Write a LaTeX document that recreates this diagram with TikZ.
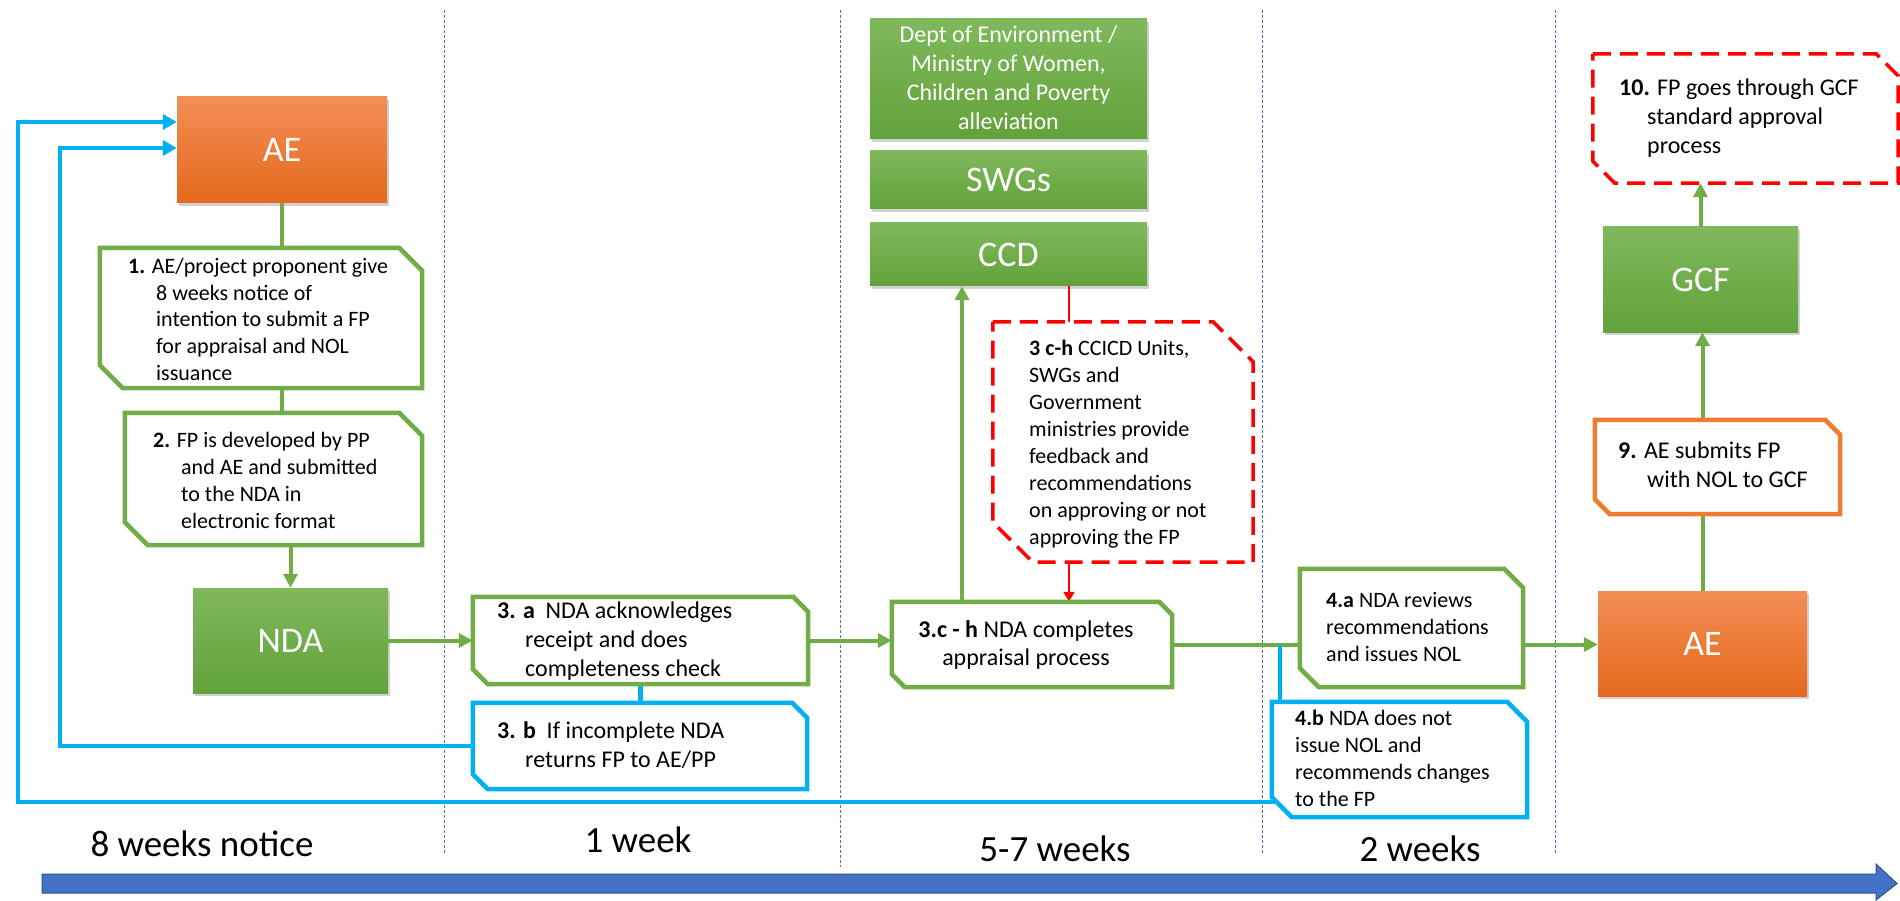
\documentclass[tikz,border=0pt]{standalone}
\usepackage{fontspec}
\setmainfont{Carlito}
\usetikzlibrary{arrows.meta,shadows,calc}
\definecolor{gr}{HTML}{70AD47}
\definecolor{grtop}{HTML}{7FB95C}
\definecolor{grbot}{HTML}{62A23A}
\definecolor{ortop}{HTML}{F28E55}
\definecolor{orbot}{HTML}{E5691C}
\definecolor{orline}{HTML}{ED7D31}
\definecolor{cy}{HTML}{00B0F0}
\definecolor{rd}{HTML}{FF0000}
\definecolor{dv}{HTML}{4472C4}
\definecolor{abl}{HTML}{4472C4}
\definecolor{abd}{HTML}{2F528F}
\newcommand{\chamf}[3]{%
  \filldraw[#3] (#1.north west) -- ([xshift=-#2]#1.north east) -- ([yshift=-#2]#1.north east)
    -- (#1.south east) -- ([xshift=#2]#1.south west) -- ([yshift=#2]#1.south west) -- cycle;}
\begin{document}
\begin{tikzpicture}[x=1pt,y=-1pt,
  blk/.style={draw=none, inner sep=0pt, text=white, font=\fontsize{36}{40}\selectfont,
    drop shadow={opacity=0.35, shadow xshift=2pt, shadow yshift=-3pt}},
  grn/.style={blk, top color=grtop, bottom color=grbot},
  org/.style={blk, top color=ortop, bottom color=orbot},
  frame/.style={inner sep=0pt, draw=none},
  gbox/.style={fill=white, draw=gr, line width=4.5pt},
  bbox/.style={fill=white, draw=cy, line width=4.5pt},
  obox/.style={fill=white, draw=orline, line width=4.5pt},
  rbox/.style={fill=white, draw=rd, line width=3.5pt, dash pattern=on 18pt off 9pt},
  txs/.style={inner sep=0pt, anchor=base west, font=\fontsize{22}{27}\selectfont},
  txm/.style={inner sep=0pt, anchor=base west, font=\fontsize{24}{29}\selectfont},
  gline/.style={draw=gr, line width=4pt},
  garrow/.style={gline, -{Triangle[length=14pt,width=14pt]}},
  bline/.style={draw=cy, line width=4.5pt},
  barrow/.style={bline, -{Triangle[length=14pt,width=15pt]}},
  rline/.style={draw=rd, line width=2pt},
  rarrow/.style={rline, -{Triangle[length=10pt,width=11pt]}},
  divider/.style={draw=dv, line width=1pt, dash pattern=on 3pt off 2pt},
  timelbl/.style={inner sep=0pt, anchor=base, font=\fontsize{37}{40}\selectfont}
]
\useasboundingbox (0,0) rectangle (1900,901);
\fill[white] (0,0) rectangle (1900,901);

% dividers
\draw[divider] (444,10) -- (444,854);
\draw[divider] (840,10) -- (840,867);
\draw[divider] (1262,10) -- (1262,853);
\draw[divider] (1555,10) -- (1555,854);

% solid blocks
\node[org, minimum width=210pt, minimum height=106pt] (ae1) at (282,150) {AE};
\node[grn, minimum width=195pt, minimum height=105pt] (nda) at (290.5,640.5) {NDA};
\node[grn, minimum width=277pt, minimum height=120pt] (dept) at (1008.5,79) {};
\node[inner sep=0pt, anchor=base, text=white, font=\fontsize{24}{29}\selectfont] (deptt) at (1008.5,43)
  {\begin{tabular}[t]{@{}c@{}}Dept of Environment /\\Ministry of Women,\\Children and Poverty\\alleviation\end{tabular}};
\node[grn, minimum width=277pt, minimum height=58pt] (swg) at (1008.5,180) {SWGs};
\node[grn, minimum width=277pt, minimum height=63pt] (ccd) at (1008.5,254.5) {CCD};
\node[grn, minimum width=195pt, minimum height=105pt] (gcf) at (1700.5,279.5) {GCF};
\node[org, minimum width=209pt, minimum height=105pt] (ae2) at (1702.5,643.5) {AE};

% frames for chamfered boxes
\node[frame, minimum width=322pt, minimum height=140pt] (b1) at (261,318) {};
\node[frame, minimum width=297pt, minimum height=132pt] (b2) at (273.5,479) {};
\node[frame, minimum width=335pt, minimum height=87pt] (b3a) at (640.5,640.5) {};
\node[frame, minimum width=334pt, minimum height=86pt] (b3b) at (640,746) {};
\node[frame, minimum width=280pt, minimum height=85pt] (b3c) at (1032,644.5) {};
\node[frame, minimum width=260pt, minimum height=240pt] (r3) at (1123,442) {};
\node[frame, minimum width=223pt, minimum height=118pt] (b4a) at (1411.5,628) {};
\node[frame, minimum width=255pt, minimum height=115pt] (b4b) at (1399.5,759.5) {};
\node[frame, minimum width=245pt, minimum height=94pt] (b9) at (1717.5,467) {};
\node[frame, minimum width=305pt, minimum height=129pt] (r10) at (1745.5,118.5) {};

% connectors
\coordinate (cx) at (962,0);
\coordinate (rx) at (1069,0);
\coordinate (jx) at (1280,0);
\coordinate (l1) at (60,148);
\coordinate (l2) at (18,122);
\coordinate (l2b) at ($(b4b.south west)+(5,-15)$);

\draw[gline] (ae1.south) -- (ae1.south |- b1.north);
\draw[gline] (b1.south -| ae1.south) -- (b2.north -| ae1.south);
\draw[garrow] (b2.south -| nda.north) -- (nda.north);
\draw[garrow] (nda.east) -- (nda.east -| b3a.west);
\draw[garrow] (b3a.east) -- (b3a.east -| b3c.west);
\draw[gline] (b3c.east) -- (b3c.east -| b4a.west);
\draw[garrow] (b4a.east |- b3c.east) -- (ae2.west |- b3c.east);
\draw[garrow] (cx |- b3c.north) -- (cx |- ccd.south);
\draw[rline] (rx |- ccd.south) -- (rx |- r3.north);
\draw[rarrow] (rx |- r3.south) -- (rx |- b3c.north);
\draw[bline] (b3a.south) -- (b3a.south |- b3b.north);
\draw[bline] (jx |- b3c.east) -- (jx |- b4b.north);
\draw[barrow] (b3b.west) -- (b3b.west -| l1) -- (l1) -- (l1 -| ae1.west);
\draw[barrow] (l2b) -- (l2b -| l2) -- (l2) -- (l2 -| ae1.west);
\draw[gline] (ae2.north) -- (ae2.north |- b9.south);
\draw[garrow] (b9.north -| ae2.north) -- (gcf.south -| ae2.north);
\draw[garrow] (gcf.north) -- (gcf.north |- r10.south);

% chamfered outlines
\chamf{b1}{23pt}{gbox}
\chamf{b2}{23pt}{gbox}
\chamf{b3a}{15pt}{gbox}
\chamf{b3b}{15pt}{bbox}
\chamf{b3c}{13pt}{gbox}
\chamf{r3}{40pt}{rbox}
\chamf{b4a}{19pt}{gbox}
\chamf{b4b}{20pt}{bbox}
\chamf{b9}{15pt}{obox}
\chamf{r10}{22pt}{rbox}

% texts
\node[txs] (b1t) at (128,273) {\begin{tabular}[t]{@{}l@{}}\textbf{1.} AE/project proponent give\\\hspace*{28pt}8 weeks notice of\\\hspace*{28pt}intention to submit a FP\\\hspace*{28pt}for appraisal and NOL\\\hspace*{28pt}issuance\end{tabular}};
\node[txs] (b2t) at (153,447) {\begin{tabular}[t]{@{}l@{}}\textbf{2.} FP is developed by PP\\\hspace*{28pt}and AE and submitted\\\hspace*{28pt}to the NDA in\\\hspace*{28pt}electronic format\end{tabular}};
\node[txm] (b3at) at (497,618) {\begin{tabular}[t]{@{}l@{}}\textbf{3. a}\ \ NDA acknowledges\\\hspace*{28pt}receipt and does\\\hspace*{28pt}completeness check\end{tabular}};
\node[txm] (b3bt) at (497,738) {\begin{tabular}[t]{@{}l@{}}\textbf{3. b}\ \ If incomplete NDA\\\hspace*{28pt}returns FP to AE/PP\end{tabular}};
\node[inner sep=0pt, anchor=base, font=\fontsize{24}{28.5}\selectfont] (b3ct) at (1026,637) {\begin{tabular}[t]{@{}c@{}}\textbf{3.c - h} NDA completes\\appraisal process\end{tabular}};
\node[txs] (r3t) at (1029,355) {\begin{tabular}[t]{@{}l@{}}\textbf{3 c-h} CCICD Units,\\SWGs and\\Government\\ministries provide\\feedback and\\recommendations\\on approving or not\\approving the FP\end{tabular}};
\node[txs] (b4at) at (1326,607) {\begin{tabular}[t]{@{}l@{}}\textbf{4.a} NDA reviews\\recommendations\\and issues NOL\end{tabular}};
\node[txs] (b4bt) at (1295,725) {\begin{tabular}[t]{@{}l@{}}\textbf{4.b} NDA does not\\issue NOL and\\recommends changes\\to the FP\end{tabular}};
\node[txm] (b9t) at (1618,458) {\begin{tabular}[t]{@{}l@{}}\textbf{9.} AE submits FP\\\hspace*{29pt}with NOL to GCF\end{tabular}};
\node[txm] (r10t) at (1619,96) {\begin{tabular}[t]{@{}l@{}}\textbf{10.} FP goes through GCF\\\hspace*{28pt}standard approval\\\hspace*{28pt}process\end{tabular}};

% time axis
\filldraw[fill=abl, draw=abd, line width=1pt] (42,874) -- (1876,874) -- (1876,864) -- (1897,883.5) -- (1876,900) -- (1876,893) -- (42,893) -- cycle;
\node[timelbl] (t1) at (202,856) {8 weeks notice};
\node[timelbl] (t2) at (638,852) {1 week};
\node[timelbl] (t3) at (1055,861) {5-7 weeks};
\node[timelbl] (t4) at (1420,861) {2 weeks};
\end{tikzpicture}
\end{document}
